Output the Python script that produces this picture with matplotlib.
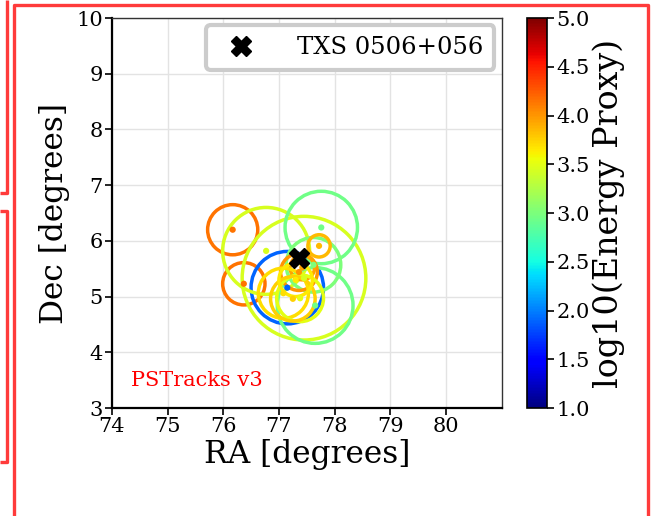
import matplotlib
matplotlib.use("Agg")
import matplotlib.pyplot as plt
import matplotlib.colors as mcolors
from matplotlib.patches import Circle
from matplotlib.lines import Line2D
import numpy as np

plt.rcParams['font.family'] = ['DejaVu Serif']

# Track events: position (deg), angular error radius (deg), log10 energy proxy
ra = [76.17, 76.37, 77.15, 77.45, 76.77, 77.76, 77.65, 77.62, 77.72, 77.36, 77.42, 77.08, 77.38, 77.25, 77.30]
dec = [6.20, 5.23, 5.16, 5.33, 5.82, 6.24, 4.84, 5.57, 5.91, 5.44, 5.52, 5.06, 4.97, 4.96, 5.30]
err = [0.45, 0.38, 0.65, 1.11, 0.78, 0.65, 0.68, 0.49, 0.20, 0.33, 0.22, 0.45, 0.42, 0.40, 0.30]
logE = [4.15, 4.15, 1.90, 3.45, 3.45, 2.95, 2.95, 3.00, 3.85, 4.00, 3.95, 3.70, 3.50, 3.75, 3.65]

src_name = "TXS 0506+056"
src_ra, src_dec = 77.358, 5.693

xticks = [74, 75, 76, 77, 78, 79, 80]
yticks = [3, 4, 5, 6, 7, 8, 9, 10]
cticks = [1.0, 1.5, 2.0, 2.5, 3.0, 3.5, 4.0, 4.5, 5.0]

fig = plt.figure(figsize=(6.51, 5.16), dpi=100)
ax = fig.add_axes([0.1705, 0.2093, 0.6015, 0.7558])
cax = fig.add_axes([0.809, 0.2093, 0.031, 0.7558])

cmap = plt.get_cmap('jet')
norm = mcolors.Normalize(vmin=1.0, vmax=5.0)

for r, d, e, c in zip(ra, dec, err, logE):
    ax.add_patch(Circle((r, d), e, fill=False, edgecolor=cmap(norm(c)),
                        linewidth=2.5, zorder=3))
ax.scatter(ra, dec, c=logE, cmap=cmap, norm=norm, s=20, zorder=4, linewidths=0)

ax.plot([src_ra], [src_dec], marker='X', color='black', markersize=15,
        linestyle='none', zorder=5, label=src_name)

ax.set_xlim(74, 81)
ax.set_ylim(3, 10)
ax.set_aspect('equal')
ax.set_xticks(xticks)
ax.set_yticks(yticks)
ax.grid(True, color='#e3e3e3', linewidth=1.0, zorder=0)
ax.set_axisbelow(True)
ax.tick_params(labelsize=15, direction='out', length=5, width=1.2, pad=1.5)
for s in ['left', 'bottom']:
    ax.spines[s].set_linewidth(1.6)
    ax.spines[s].set_color('black')
for s in ['top', 'right']:
    ax.spines[s].set_linewidth(1.0)
    ax.spines[s].set_color('#333333')

ax.set_xlabel('RA [degrees]', fontsize=22.5, labelpad=2)
ax.set_ylabel('Dec [degrees]', fontsize=22.5, labelpad=4)

ax.text(0.05, 0.07, 'PSTracks v3', transform=ax.transAxes, color='red',
        fontsize=15, va='center', ha='left')

leg = ax.legend(loc='upper right', fontsize=17.5, frameon=True, fancybox=True,
                handletextpad=1.3, borderpad=0.45, markerscale=1.0,
                borderaxespad=0.3)
leg.get_frame().set_edgecolor('#cccccc')
leg.get_frame().set_linewidth(3)
leg.get_frame().set_alpha(1)

cb = fig.colorbar(plt.cm.ScalarMappable(norm=norm, cmap=cmap), cax=cax)
cb.set_ticks(cticks)
cb.set_ticklabels([f"{t:.1f}" for t in cticks])
cb.ax.tick_params(labelsize=15, length=5, width=1.2, pad=2)
cb.set_label('log10(Energy Proxy)', fontsize=24, labelpad=2)
cb.outline.set_linewidth(1.2)

# red outline frames around the panel
W, H = 651.0, 516.0
def fline(xs, ys):
    fig.add_artist(Line2D([x / W for x in xs], [1 - y / H for y in ys],
                          color='#ff3b3b', linewidth=2.4, transform=fig.transFigure,
                          solid_capstyle='butt'))
fline([0, 7.3, 7.3], [193, 193, 0])
fline([0, 7.3, 7.3, 0], [210.7, 210.7, 462, 462])
fline([14.3, 14.3, 647.5, 647.5], [516, 5, 5, 516])

fig.savefig('out.png', dpi=100)
